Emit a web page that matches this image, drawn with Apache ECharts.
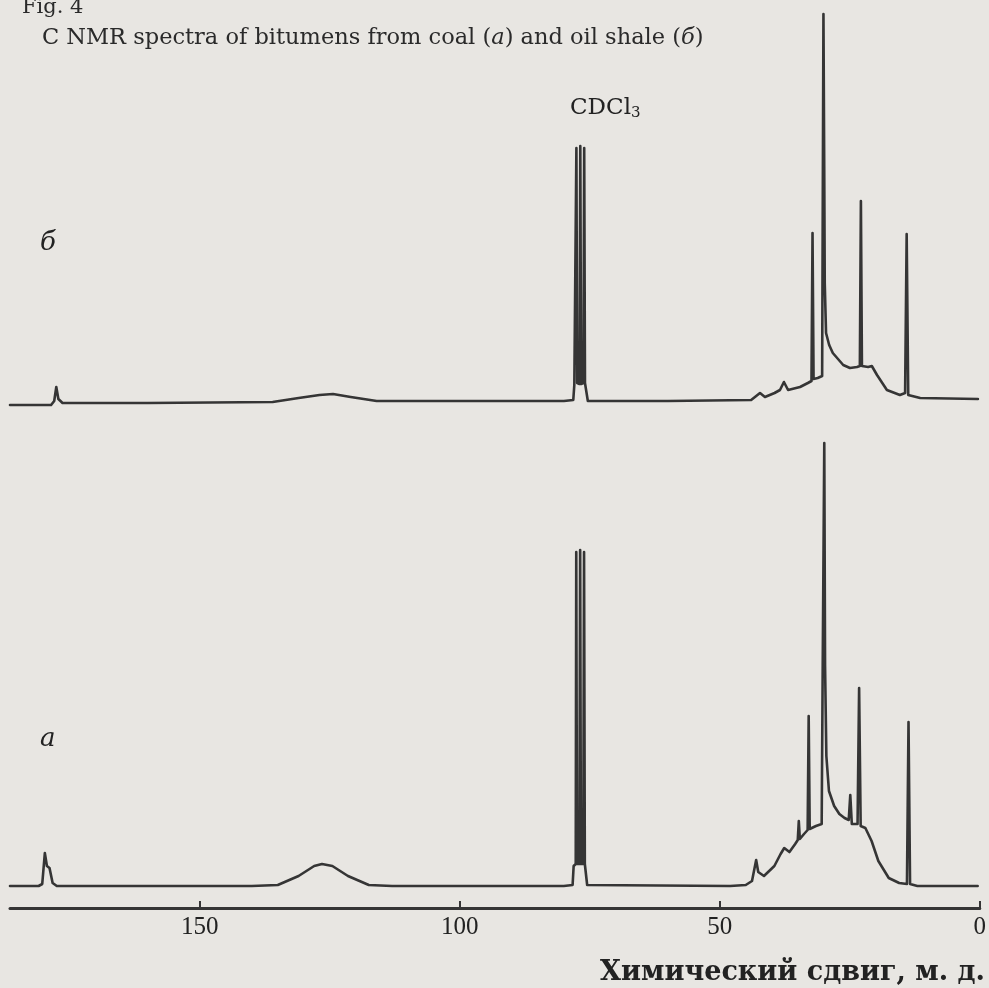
<!DOCTYPE html>
<html><head><meta charset="utf-8">
<script src="https://cdn.jsdelivr.net/npm/echarts@6/dist/echarts.min.js"></script>
<style>html,body{margin:0;padding:0;background:#e8e6e2;}#c{width:989px;height:988px;}</style>
</head><body><div id="c"></div>
<script>
// chemical shift range (ppm) and tick labels
const ppmMax = 186.5;
const tickValues = [0, 50, 100, 150];
// spectrum б (oil shale) : [ppm, intensity]
const spectrumB = [
  [186.5,-2],[178.6,-2],[178.0,2],[177.6,16],[177.2,4],[176.4,0],[160,0],[136,1],[131,5],[127,8],[124.4,9],[121,6],[116,2],[100,2],[80,2],
  [78.2,3],[78.0,18],[77.7,20],[77.6,255],[77.45,20],[77.0,19],[76.85,257],[76.7,19],[76.25,20],[76.1,255],[75.95,20],[75.6,18],[75.4,2],
  [60,2],[44,3],[43.65,4],[42.3,10],[41.35,6],[39.5,10],[38.46,13],[37.7,21],[36.9,13],[34.6,16],[33.1,20],[32.4,22],[32.2,170],[32.0,24],
  [31.2,25],[30.35,27],[30.1,389],[29.95,235],[29.85,120],[29.6,70],[29.0,58],[28.3,50],[26.3,38],[25.0,35],[23.65,36],[23.1,37],[22.9,202],
  [22.7,37],[21.5,36],[20.8,37],[19.8,28],[17.9,13],[15.4,8],[14.4,10],[14.1,169],[13.8,8],[13.5,6],[11.5,5],[0.4,4]
];
// spectrum а (coal)
const spectrumA = [
  [186.5,0],[181,0],[180.3,2],[179.8,33],[179.4,20],[178.9,18],[178.3,3],[177.5,0],[140,0],[135,1],[131,10],[128,20],[126.5,22],[124.5,20],
  [121.5,10],[117.5,1],[113,0],[80,0],[78.3,1],[78.1,20],[77.7,22],[77.6,334],[77.45,22],[77.0,22],[76.85,336],[76.7,22],[76.25,22],[76.1,334],
  [75.95,22],[75.8,20],[75.5,1],[48,0],[45,1],[43.8,5],[43.0,26],[42.6,14],[41.5,10],[39.5,20],[38.3,32],[37.6,38],[36.6,34],[35.5,42],[35.0,46],
  [34.8,65],[34.6,47],[33.8,52],[33.1,56],[32.9,170],[32.7,57],[31.5,60],[30.4,62],[30.2,221],[29.9,443],[29.75,221],[29.5,130],[29.0,95],
  [28.0,80],[27.0,72],[26.0,68],[25.2,66],[24.9,91],[24.6,62],[23.5,62],[23.2,198],[22.9,60],[22.0,58],[20.8,45],[19.5,25],[17.5,8],[15.5,3],
  [14.0,2],[13.7,164],[13.4,2],[12,0],[0.4,0]
];

const ink = '#353535';
const serif = '"DejaVu Serif", "Liberation Serif", serif';
const chart = echarts.init(document.getElementById('c'));
const lineStyle = {color: ink, width: 2.6, cap: 'round', join: 'round'};
chart.setOption({
  backgroundColor: '#e8e6e2',
  animation: false,
  grid: [
    {left: 10, right: 9, top: 14, height: 394},
    {left: 10, right: 9, top: 436, height: 472}
  ],
  xAxis: [
    {gridIndex: 0, type: 'value', inverse: true, min: 0, max: ppmMax, show: false},
    {gridIndex: 1, type: 'value', inverse: true, min: 0, max: ppmMax, interval: 50,
     axisLine: {onZero: false, lineStyle: {color: ink, width: 3}},
     axisTick: {customValues: tickValues, inside: true, length: 7, lineStyle: {color: ink, width: 2}},
     axisLabel: {customValues: tickValues, fontFamily: '"Liberation Serif", serif', fontSize: 25, color: '#222', margin: 7},
     splitLine: {show: false}}
  ],
  yAxis: [
    {gridIndex: 0, type: 'value', min: -5, max: 389, show: false},
    {gridIndex: 1, type: 'value', min: -22, max: 450, show: false}
  ],
  series: [
    {type: 'line', xAxisIndex: 0, yAxisIndex: 0, data: spectrumB, showSymbol: false, lineStyle: lineStyle, clip: false},
    {type: 'line', xAxisIndex: 1, yAxisIndex: 1, data: spectrumA, showSymbol: false, lineStyle: lineStyle, clip: false}
  ],
  graphic: [
    {type: 'text', left: 22, top: -3, style: {text: 'Fig. 4', font: '21px ' + serif, fill: '#2a2a2a'}},
    {type: 'text', left: 42, top: 27, style: {
      text: '{n|C NMR spectra of bitumens from coal (}{i|a}{n|) and oil shale (}{i|б}{n|)}',
      rich: {n: {fontFamily: serif, fontSize: 22.5, fill: '#2a2a2a'}, i: {fontFamily: serif, fontSize: 22.5, fontStyle: 'italic', fill: '#2a2a2a'}}}},
    {type: 'text', left: 570, top: 97, style: {
      text: '{n|CDCl}{s|3}',
      rich: {n: {fontFamily: serif, fontSize: 23, fill: '#222'}, s: {fontFamily: serif, fontSize: 15, fill: '#222', padding: [10, 0, 0, 0]}}}},
    {type: 'text', left: 40, top: 230, style: {text: 'б', font: 'italic 26px ' + serif, fill: '#222'}},
    {type: 'text', left: 40, top: 726, style: {text: 'а', font: 'italic 26px ' + serif, fill: '#222'}},
    {type: 'text', right: 4, top: 959, style: {text: 'Химический сдвиг, м. д.', font: 'bold 27px ' + serif, fill: '#222'}}
  ]
});
</script></body></html>
